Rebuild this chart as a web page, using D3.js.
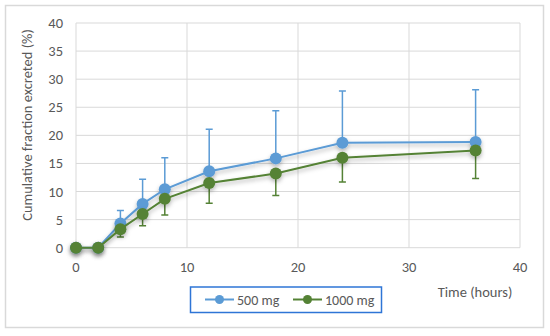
<!DOCTYPE html>
<html>
<head>
<meta charset="utf-8">
<script src="https://cdn.jsdelivr.net/npm/d3@7"></script>
<style>
body { margin: 0; background: #fff; }
text { font-family: Carlito, "Open Sans", "Liberation Sans", sans-serif; fill: #595959; }
</style>
</head>
<body>
<svg width="550" height="336"></svg>
<script>
var times = [0, 2, 4, 6, 8, 12, 18, 24, 36];
var mean500 = [0, 0, 4.3, 7.8, 10.4, 13.6, 15.9, 18.7, 18.8];
var upper500 = [0, 0, 6.6, 12.2, 16.0, 21.1, 24.4, 27.9, 28.1];
var mean1000 = [0, 0, 3.3, 6.0, 8.7, 11.5, 13.2, 16.0, 17.3];
var lower1000 = [0, 0, 1.9, 3.9, 5.8, 7.9, 9.3, 11.7, 12.3];
var xTicks = [0, 10, 20, 30, 40];
var yTicks = [0, 5, 10, 15, 20, 25, 30, 35, 40];

var svg = d3.select("svg");

var x = d3.scaleLinear().domain([0, 40]).range([76, 520]),
    y = d3.scaleLinear().domain([0, 40]).range([247.7, 23]);

var defs = svg.append("defs");
var f = defs.append("filter").attr("id", "shadow").attr("x", "-20%").attr("y", "-20%").attr("width", "140%").attr("height", "160%");
f.append("feDropShadow").attr("dx", 0).attr("dy", 2.5).attr("stdDeviation", 2).attr("flood-color", "#000").attr("flood-opacity", 0.3);

// outer chart border
svg.append("rect")
    .attr("x", 5.5).attr("y", 5.5).attr("width", 538).attr("height", 322)
    .attr("fill", "#fff").attr("stroke", "#d9d9d9").attr("stroke-width", 1.5);

// gridlines
svg.append("g").selectAll("line.h")
    .data(yTicks)
    .enter().append("line")
        .attr("x1", x(0)).attr("x2", x(40))
        .attr("y1", function(d) { return y(d); })
        .attr("y2", function(d) { return y(d); })
        .attr("stroke", "#d9d9d9").attr("stroke-width", 1);

svg.append("g").selectAll("line.v")
    .data(xTicks)
    .enter().append("line")
        .attr("x1", function(d) { return x(d); })
        .attr("x2", function(d) { return x(d); })
        .attr("y1", y(0)).attr("y2", y(40))
        .attr("stroke", "#d9d9d9").attr("stroke-width", 1);

// tick labels
svg.append("g").selectAll("text")
    .data(yTicks)
    .enter().append("text")
        .attr("x", 63)
        .attr("y", function(d) { return y(d) + 5; })
        .attr("text-anchor", "end")
        .attr("font-size", 14.5)
        .text(function(d) { return d; });

svg.append("g").selectAll("text")
    .data(xTicks)
    .enter().append("text")
        .attr("x", function(d) { return x(d); })
        .attr("y", 272)
        .attr("text-anchor", "middle")
        .attr("font-size", 14.5)
        .text(function(d) { return d; });

svg.append("text")
    .attr("transform", "translate(32,125) rotate(-90)")
    .attr("text-anchor", "middle")
    .attr("font-size", 14.5)
    .text("Cumulative fraction excreted (%)");

svg.append("text")
    .attr("x", 475).attr("y", 297)
    .attr("text-anchor", "middle")
    .attr("font-size", 14.5)
    .text("Time (hours)");

function series(means, bars, color) {
    var pts = times.map(function(t, i) { return {t: t, v: means[i], e: bars[i]}; });
    var g = svg.append("g");
    g.selectAll("g.err")
        .data(pts.filter(function(d) { return d.e !== d.v; }))
        .enter().append("path")
            .attr("d", function(d) {
                var px = x(d.t), y0 = y(d.v), y1 = y(d.e);
                return "M" + px + "," + y0 + "V" + y1 + "M" + (px - 3.5) + "," + y1 + "H" + (px + 3.5);
            })
            .attr("stroke", color).attr("stroke-width", 1.5).attr("fill", "none");
    var line = d3.line().x(function(d) { return x(d.t); }).y(function(d) { return y(d.v); });
    var sg = g.append("g").attr("filter", "url(#shadow)");
    sg.append("path")
        .datum(pts)
        .attr("d", line)
        .attr("fill", "none").attr("stroke", color).attr("stroke-width", 2);
    sg.selectAll("circle")
        .data(pts)
        .enter().append("circle")
            .attr("cx", function(d) { return x(d.t); })
            .attr("cy", function(d) { return y(d.v); })
            .attr("r", 6)
            .attr("fill", color);
}

series(mean500, upper500, "#5b9bd5");
series(mean1000, lower1000, "#548235");

// legend
var legend = svg.append("g");
legend.append("rect")
    .attr("x", 190.5).attr("y", 287).attr("width", 191).attr("height", 25.5)
    .attr("fill", "#fff").attr("stroke", "#2e75d6").attr("stroke-width", 1.5);

var legendItems = [
    {label: "500 mg", color: "#5b9bd5", x0: 205},
    {label: "1000 mg", color: "#548235", x0: 293}
];
legend.selectAll("g.item")
    .data(legendItems)
    .enter().append("g")
        .each(function(d) {
            var it = d3.select(this);
            it.append("line")
                .attr("x1", d.x0).attr("x2", d.x0 + 29)
                .attr("y1", 299.5).attr("y2", 299.5)
                .attr("stroke", d.color).attr("stroke-width", 2);
            it.append("circle")
                .attr("cx", d.x0 + 14.5).attr("cy", 299.5).attr("r", 4.5)
                .attr("fill", d.color);
            it.append("text")
                .attr("x", d.x0 + 32).attr("y", 304.5)
                .attr("font-size", 14)
                .text(d.label);
        });
</script>
</body>
</html>
